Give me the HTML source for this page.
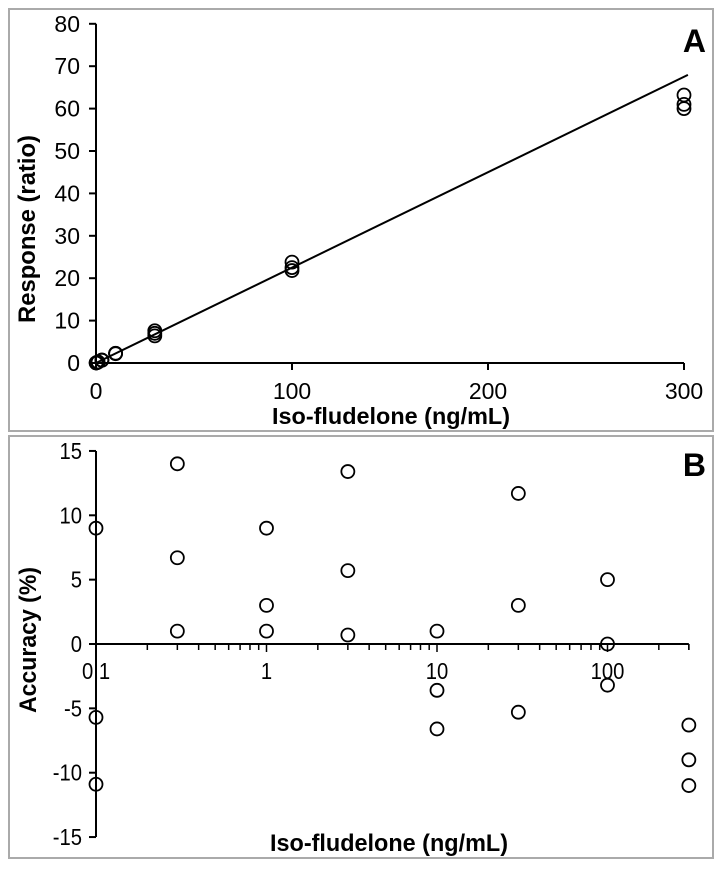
<!DOCTYPE html>
<html><head><meta charset="utf-8"><style>
body{margin:0;background:#fff;width:726px;height:869px;overflow:hidden}
svg{display:block;font-family:"Liberation Sans",Arial,sans-serif}
</style></head><body>
<svg id="s" width="726" height="869">
<rect x="9" y="9" width="704" height="422" fill="none" stroke="#aaa" stroke-width="2"/>
<rect x="9" y="436" width="704" height="422" fill="none" stroke="#aaa" stroke-width="2"/>
<text x="706" y="52" text-anchor="end" font-size="32" font-weight="bold">A</text>
<text x="706" y="476" text-anchor="end" font-size="32" font-weight="bold">B</text>
<text x="229" y="35" transform="rotate(-90 229 35) translate(-229 0) translate(0 0)" font-size="24" font-weight="bold" text-anchor="middle" textLength="188" lengthAdjust="spacingAndGlyphs" style="display:none">Response (ratio)</text>
<text transform="translate(35 229) rotate(-90)" font-size="24" font-weight="bold" text-anchor="middle" textLength="188" lengthAdjust="spacingAndGlyphs">Response (ratio)</text>
<text x="391" y="424" font-size="23" font-weight="bold" text-anchor="middle" textLength="238" lengthAdjust="spacingAndGlyphs">Iso-fludelone (ng/mL)</text>
<text transform="translate(36 640) rotate(-90)" font-size="24" font-weight="bold" text-anchor="middle" textLength="146" lengthAdjust="spacingAndGlyphs">Accuracy (%)</text>
<text x="389" y="851" font-size="24" font-weight="bold" text-anchor="middle" textLength="238" lengthAdjust="spacingAndGlyphs">Iso-fludelone (ng/mL)</text>
<g id="ga"></g>
<g id="gb"></g>
</svg>
<script>
const concA = [0.1,0.1,0.1,0.3,0.3,0.3,1,1,1,3,3,3,10,10,10,30,30,30,100,100,100,300,300,300];
const respA = [0.02,0.03,0.02,0.07,0.07,0.06,0.23,0.22,0.22,0.7,0.68,0.65,2.3,2.25,2.2,7.6,7.0,6.4,23.8,22.5,21.8,63.2,61,60];
const fitSlope = 0.225, fitIntercept = 0, fitXmax = 302;
const yTicksA = [0,10,20,30,40,50,60,70,80];
const xTicksA = [0,100,200,300];
const concB = [0.1,0.1,0.1,0.3,0.3,0.3,1,1,1,3,3,3,10,10,10,30,30,30,100,100,100,300,300,300];
const accB = [9,-5.7,-10.9,14,6.7,1,9,3,1,13.4,5.7,0.7,1,-3.6,-6.6,11.7,3,-5.3,5,0,-3.2,-6.3,-9,-11];
const yTicksB = [15,10,5,0,-5,-10,-15];
const xTicksB = [0.1,1,10,100];
const xTickLabelsB = ['0.1','1','10','100'];
const NS='http://www.w3.org/2000/svg';
function mk(p,t,a){const e=document.createElementNS(NS,t);for(const k in a)e.setAttribute(k,a[k]);p.appendChild(e);return e;}
const ga=document.getElementById('ga'), gb=document.getElementById('gb');
const xa=v=>96+v*1.96, ya=v=>363-v*4.24;
let e;
e=mk(ga,'line',{x1:96,y1:ya(80),x2:96,y2:363,stroke:'#000','stroke-width':2});

e=mk(ga,'line',{x1:96,y1:363,x2:xa(300),y2:363,stroke:'#000','stroke-width':2});

yTicksA.forEach(v=>{
 e=mk(ga,'line',{x1:89,y1:ya(v),x2:96,y2:ya(v),stroke:'#000','stroke-width':2});
 
 e=mk(ga,'text',{x:80,y:ya(v)+8,'text-anchor':'end','font-size':23});e.textContent=v;
 
});
xTicksA.forEach(v=>{
 e=mk(ga,'line',{x1:xa(v),y1:363,x2:xa(v),y2:370,stroke:'#000','stroke-width':2});
 
 e=mk(ga,'text',{x:xa(v),y:399,'text-anchor':'middle','font-size':23});e.textContent=v;
 
});
e=mk(ga,'line',{x1:xa(0),y1:ya(fitIntercept),x2:xa(fitXmax),y2:ya(fitIntercept+fitSlope*fitXmax),stroke:'#000','stroke-width':2});

concA.forEach((c,i)=>{
 e=mk(ga,'circle',{cx:xa(c),cy:ya(respA[i]),r:6.5,fill:'none',stroke:'#000','stroke-width':1.8});
 
});
const lx=v=>96+(Math.log10(v)+1)*170.5, yb=v=>644-v*12.87;
e=mk(gb,'line',{x1:96,y1:yb(15),x2:96,y2:yb(-15),stroke:'#000','stroke-width':2});

e=mk(gb,'line',{x1:96,y1:yb(0),x2:lx(300),y2:yb(0),stroke:'#000','stroke-width':2});

yTicksB.forEach(v=>{
 e=mk(gb,'line',{x1:89,y1:yb(v),x2:96,y2:yb(v),stroke:'#000','stroke-width':2});
 
 e=mk(gb,'text',{transform:'translate(82 '+(yb(v)+8)+') scale(0.88 1)','text-anchor':'end','font-size':23});e.textContent=v;
 
});
for(let d=0.1;d<300;d*=10){for(let m=1;m<10;m++){const v=d*m;if(v>300)break;
 e=mk(gb,'line',{x1:lx(v),y1:yb(0),x2:lx(v),y2:yb(0)+(m==1?8:6),stroke:'#000','stroke-width':1.5});
 }}
e=mk(gb,'line',{x1:lx(300),y1:yb(0),x2:lx(300),y2:yb(0)+6,stroke:'#000','stroke-width':1.5});

xTicksB.forEach((v,i)=>{
 e=mk(gb,'text',{transform:'translate('+lx(v)+' 679) scale(0.88 1)','text-anchor':'middle','font-size':23});e.textContent=xTickLabelsB[i];
 
});
concB.forEach((c,i)=>{
 e=mk(gb,'circle',{cx:lx(c),cy:yb(accB[i]),r:6.5,fill:'none',stroke:'#000','stroke-width':1.8});
 
});
</script>
</body></html>
